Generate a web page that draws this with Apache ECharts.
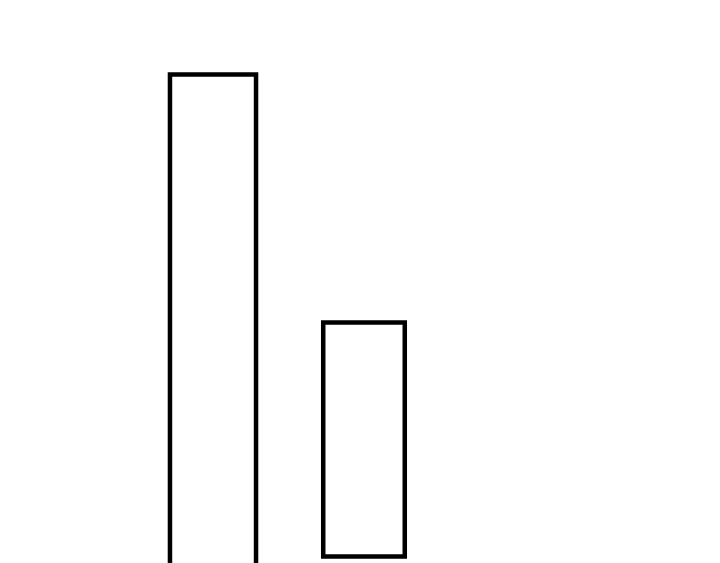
<!DOCTYPE html>
<html lang="en">
<head>
    <meta charset="UTF-8">
    <title>Bars</title>
    <script src="https://cdn.jsdelivr.net/npm/echarts@6/dist/echarts.min.js"></script>
    <style>
        html, body { margin: 0; padding: 0; background: #fff; }
        #chart { width: 720px; height: 563px; }
    </style>
</head>
<body>
<div id="chart"></div>
<script>
    // data
    var categories = ['A', 'B'];
    var barLow = [-20, 0];
    var barHigh = [206, 100];

    // bar widths as share of a category band (style, not data)
    var widthShare = [0.57, 0.54];

    var myChart = echarts.init(document.getElementById('chart'));

    var seriesData = categories.map(function (c, i) {
        return [i, barLow[i], barHigh[i]];
    });

    var option = {
        animation: false,
        grid: {
            left: 137.5,
            right: 280.5,
            top: 0,
            bottom: 0
        },
        xAxis: {
            type: 'category',
            data: categories,
            show: false
        },
        yAxis: {
            type: 'value',
            min: -2.8,
            max: 237.8,
            show: false
        },
        series: [
            {
                type: 'custom',
                clip: false,
                data: seriesData,
                renderItem: function (params, api) {
                    var idx = api.value(0);
                    var p0 = api.coord([idx, api.value(1)]);
                    var p1 = api.coord([idx, api.value(2)]);
                    var w = api.size([1, 0])[0] * widthShare[params.dataIndex];
                    return {
                        type: 'rect',
                        shape: {
                            x: p0[0] - w / 2,
                            y: p1[1],
                            width: w,
                            height: p0[1] - p1[1]
                        },
                        style: {
                            fill: 'none',
                            stroke: '#000',
                            lineWidth: 4.5
                        }
                    };
                }
            }
        ]
    };
    myChart.setOption(option, true);
</script>
</body>
</html>
